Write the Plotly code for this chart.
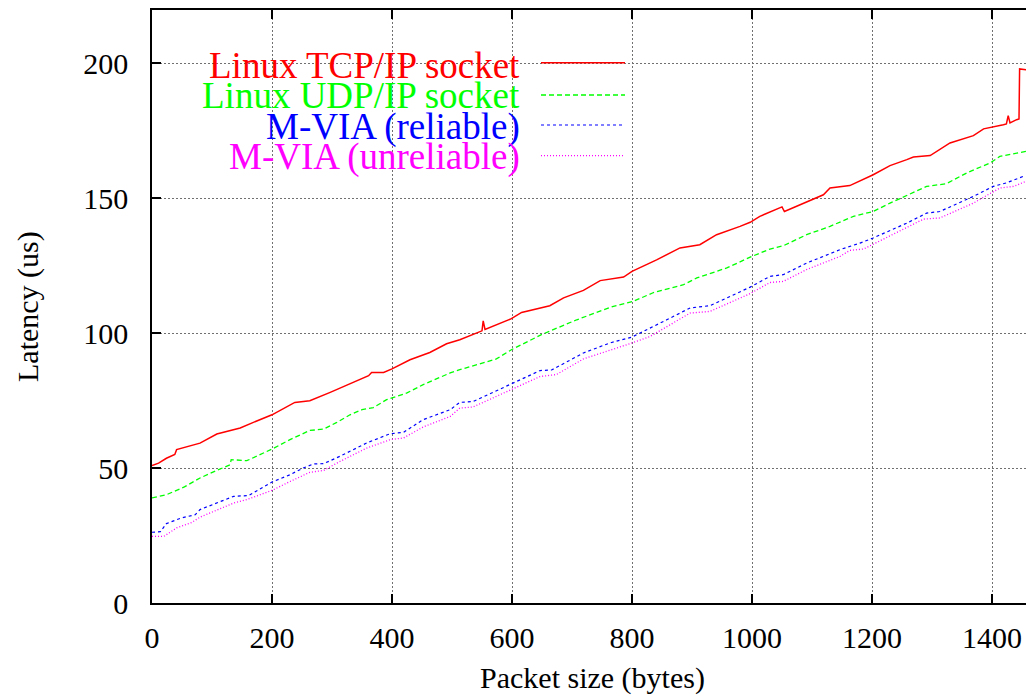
import plotly.graph_objects as go

# ---------------- data ----------------
tcp_x = [0, 11, 24, 38, 41, 80, 108, 147, 169, 200, 238, 263, 297, 341, 361, 366, 386,
         400, 430, 463, 491, 513, 550, 552, 555, 599, 616, 663, 686, 719, 747, 786, 800,
         841, 880, 913, 941, 980, 997, 1013, 1050, 1054, 1091, 1119, 1130, 1163, 1202,
         1230, 1258, 1269, 1297, 1330, 1369, 1386, 1419, 1424, 1427, 1430, 1441, 1445,
         1446, 1457]
tcp_y = [50.9, 51.8, 53.6, 55.0, 56.8, 59.2, 62.6, 64.8, 66.9, 69.7, 74.3, 74.9, 78.0,
         82.1, 84.2, 85.4, 85.4, 86.7, 90.1, 92.8, 96.0, 97.5, 100.8, 104.5, 101.3, 105.3,
         107.6, 110.1, 113.0, 115.8, 119.4, 120.7, 122.8, 127.1, 131.5, 132.7, 136.4,
         139.5, 141.0, 143.2, 146.7, 145.0, 148.4, 151.2, 153.7, 154.6, 158.6, 162.0,
         164.2, 165.2, 165.7, 170.4, 173.1, 175.6, 177.1, 177.4, 180.5, 177.8, 179.0,
         179.3, 197.8, 197.5]

udp_x = [0, 24, 54, 80, 108, 130, 132, 158, 200, 230, 263, 286, 308, 330, 350, 369, 391,
         425, 452, 497, 513, 574, 599, 649, 708, 769, 802, 836, 886, 908, 958, 997, 1030,
         1052, 1091, 1130, 1169, 1202, 1230, 1269, 1291, 1324, 1358, 1397, 1413, 1457]
udp_y = [38.9, 40.1, 43.0, 46.3, 49.1, 51.2, 53.1, 52.7, 57.0, 60.5, 63.9, 64.4, 66.9,
         69.7, 71.6, 72.4, 75.3, 77.8, 80.9, 85.2, 86.4, 90.4, 93.8, 99.4, 104.9, 109.9,
         111.7, 115.0, 117.9, 120.4, 124.1, 128.1, 131.1, 132.3, 136.4, 139.5, 143.2,
         145.0, 148.1, 151.9, 154.3, 155.3, 159.3, 163.0, 165.4, 167.3]

rel_x = [0, 14, 24, 49, 72, 80, 136, 161, 200, 230, 252, 269, 286, 313, 358, 397, 419,
         452, 497, 513, 535, 597, 647, 666, 719, 763, 800, 858, 897, 930, 997, 1030, 1052,
         1091, 1147, 1180, 1202, 1258, 1291, 1313, 1369, 1402, 1424, 1452]
rel_y = [26.2, 26.4, 29.4, 31.5, 32.7, 34.6, 39.5, 39.8, 44.8, 47.5, 50.0, 51.5, 51.6,
         54.3, 59.3, 62.7, 63.2, 67.9, 71.6, 74.3, 74.6, 80.9, 86.1, 86.3, 92.6, 96.3,
         98.5, 104.9, 109.3, 110.1, 117.0, 121.0, 121.6, 125.9, 130.9, 133.3, 135.2,
         140.7, 144.4, 145.0, 150.6, 154.3, 155.6, 158.0]

unrel_x = [0, 20, 41, 66, 80, 136, 158, 200, 230, 263, 286, 313, 358, 397, 419, 452, 497,
           513, 535, 597, 647, 674, 719, 800, 830, 897, 930, 997, 1030, 1052, 1091, 1147,
           1163, 1186, 1258, 1286, 1313, 1369, 1413, 1436, 1457]
unrel_y = [24.7, 24.7, 27.8, 29.8, 31.8, 37.0, 38.3, 41.7, 45.0, 48.4, 49.1, 52.4, 57.4,
           60.5, 61.1, 65.2, 69.1, 72.2, 72.6, 79.0, 83.9, 84.6, 90.4, 96.3, 98.7, 107.4,
           108.0, 114.6, 118.7, 119.1, 123.5, 128.4, 130.6, 131.1, 138.9, 142.2, 142.6,
           148.1, 153.7, 154.3, 156.2]

series_names = ["Linux TCP/IP socket", "Linux UDP/IP socket", "M-VIA (reliable)",
                "M-VIA (unreliable)"]
x_ticks = [0, 200, 400, 600, 800, 1000, 1200, 1400]
y_ticks = [0, 50, 100, 150, 200]

# ---------------- styling ----------------
W, H = 1026, 699
ML, MR, MT, MB = 152, 0, 10, 96
PW, PH = W - ML - MR, H - MT - MB
X_MAX = PW / 0.6
Y_MAX = PH / 2.7
FONT = "Liberation Serif, Times New Roman, serif"

colors = ["#ff0000", "#00ff00", "#0000ff", "#ff00ff"]
dashes = ["solid", "5px,3px", "3px,3px", "1px,2px"]
widths = [1.5, 1.3, 1.2, 1.3]

def px(xp):
    return (xp - ML) / PW

def py(yp):
    return 1 - (yp - MT) / PH

fig = go.Figure()
data = [(tcp_x, tcp_y), (udp_x, udp_y), (rel_x, rel_y), (unrel_x, unrel_y)]
for (xs, ys), name, c, d, w in zip(data, series_names, colors, dashes, widths):
    fig.add_trace(go.Scatter(x=xs, y=ys, mode="lines", name=name,
                             line=dict(color=c, dash=d, width=w), showlegend=False))

axis_common = dict(
    showline=True, linecolor="black", linewidth=1.5,
    ticks="inside", ticklen=9, tickwidth=1.5, tickcolor="black",
    showgrid=True, gridcolor="#707070", gridwidth=1, griddash="2px,2px",
    zeroline=False, tickfont=dict(family=FONT, size=30, color="black"),
)

fig.update_xaxes(range=[0, X_MAX], tickvals=x_ticks, ticktext=[str(v) for v in x_ticks],
                 mirror="ticks", ticklabelstandoff=7, **axis_common)
fig.update_yaxes(range=[0, Y_MAX], tickvals=y_ticks, ticktext=[str(v) for v in y_ticks],
                 mirror=False, ticklabelstandoff=16, **axis_common)

shapes = []
annotations = []
# white key box hiding the grid
shapes.append(dict(type="rect", xref="paper", yref="paper", x0=px(155), x1=px(641),
                   y0=py(173), y1=py(47), fillcolor="white", line=dict(width=0),
                   layer="between"))
sample_rows = [62.7, 95, 125, 155.7]
text_rows = [65, 95.7, 127.3, 157.3]
for name, c, d, w, r, tr in zip(series_names, colors, dashes, widths, sample_rows, text_rows):
    shapes.append(dict(type="line", xref="paper", yref="paper", x0=px(541), x1=px(625),
                       y0=py(r), y1=py(r), line=dict(color=c, dash=d, width=w),
                       layer="above"))
    annotations.append(dict(text=name, xref="paper", yref="paper", x=px(522), y=py(tr),
                            xanchor="right", yanchor="middle", showarrow=False,
                            font=dict(family=FONT, size=37, color=c)))

annotations.append(dict(text="Packet size (bytes)", xref="paper", yref="paper",
                        x=px(592), y=py(678), xanchor="center", yanchor="middle",
                        showarrow=False, font=dict(family=FONT, size=30, color="black")))
annotations.append(dict(text="Latency (us)", xref="paper", yref="paper",
                        x=px(28), y=py(307), xanchor="center", yanchor="middle",
                        textangle=-90, showarrow=False,
                        font=dict(family=FONT, size=30, color="black")))

fig.update_layout(width=W, height=H, margin=dict(l=ML, r=MR, t=MT, b=MB),
                  plot_bgcolor="white", paper_bgcolor="white",
                  shapes=shapes, annotations=annotations, showlegend=False)

fig.write_html("out.html", config={"displayModeBar": False},
               post_script="document.body.style.margin='0';")
